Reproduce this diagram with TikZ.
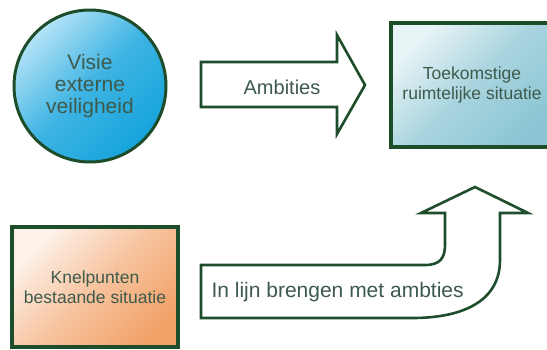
\documentclass[tikz,border=0pt]{standalone}
\usepackage{fontspec}
\setmainfont{Liberation Sans}
\usepackage{tikz}

\definecolor{donkergroen}{HTML}{1E4D2B}
\definecolor{tekstkleur}{HTML}{3E5A4C}
\definecolor{lichtblauw}{HTML}{B4E3F6}
\definecolor{blauw}{HTML}{16A4DC}
\definecolor{zee}{HTML}{8CC6D4}
\definecolor{oranje}{HTML}{F2A36A}

\begin{document}
\begin{tikzpicture}[x=1pt,y=-1pt,
	rand/.style={draw=donkergroen,line width=3.3pt},
	pijl/.style={draw=donkergroen,line width=2.6pt,fill=white,line join=miter},
	opschrift/.style={text=tekstkleur,align=center}]
\useasboundingbox (0,0) rectangle (547,349);
\node [circle,rand,line width=3pt,minimum size=152pt,inner sep=0pt,
	top color=lichtblauw,bottom color=blauw,middle color=blauw!75!lichtblauw,shading angle=45,
	opschrift,font=\fontsize{21}{22}\selectfont] (visie) at (90,86) {Visie\\externe\\veiligheid};
\node [rectangle,rand,minimum width=162pt,minimum height=124pt,
	top color=zee!20!white,bottom color=zee,middle color=zee!75!white,shading angle=45,
	opschrift,font=\fontsize{17.5}{20}\selectfont] (toekomst) at (472,85) {Toekomstige\\ruimtelijke situatie};
\node [rectangle,rand,minimum width=166pt,minimum height=120pt,
	top color=oranje!15!white,bottom color=oranje,middle color=oranje!65!white,shading angle=45,
	opschrift,font=\fontsize{17.5}{20}\selectfont] (knelpunten) at (95,287) {Knelpunten\\bestaande situatie};
% pijlen
\draw [pijl] (201,62) -- (337,62) -- (337,35) -- (365,85) -- (337,134) -- (337,107) -- (201,107) -- cycle;
\node [opschrift,font=\fontsize{20}{22}\selectfont] (ambities) at (282,87) {Ambities};
\draw [pijl] (201,265) -- (425,265) .. controls (440,265) and (445,258) .. (445,245) -- (445,213)
	-- (421,213) -- (475,187) -- (528,213) -- (500,213) -- (500,260)
	.. controls (500,300) and (465,318) .. (412,318) -- (201,318) -- cycle;
\node [opschrift,anchor=base west,font=\fontsize{21}{22}\selectfont] (inlijn) at (208,297) {In lijn brengen met ambties};
\end{tikzpicture}
\end{document}
